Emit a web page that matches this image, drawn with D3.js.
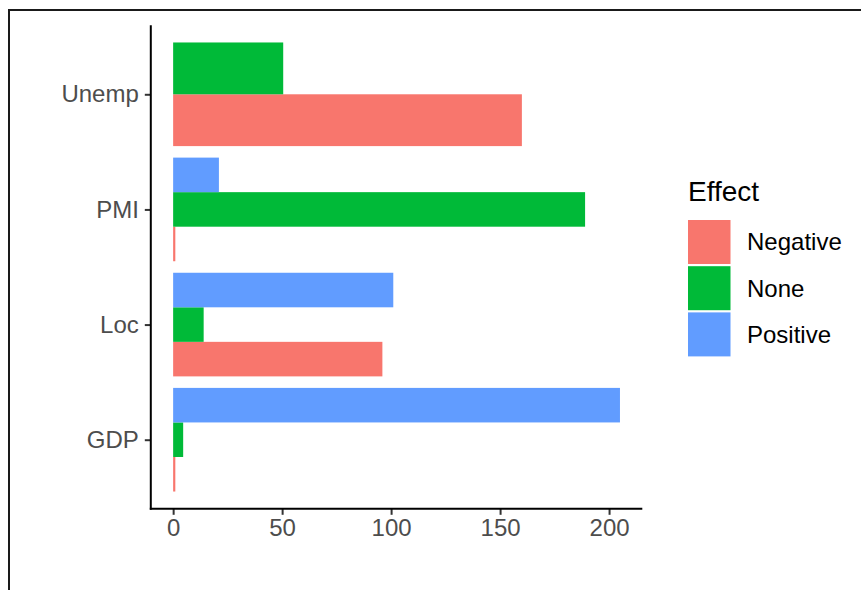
<!DOCTYPE html>
<html>
<head>
<meta charset="utf-8">
<script src="https://cdn.jsdelivr.net/npm/d3@7"></script>
<style>
  html, body { margin: 0; padding: 0; background: #fff; }
  svg { display: block; }
</style>
</head>
<body>
<svg id="chart" width="861" height="590"></svg>
<script>
// ---- data ----
const categories = ["Unemp", "PMI", "Loc", "GDP"];          // top to bottom
const effects = ["Negative", "None", "Positive"];
const colors = ["#F8766D", "#00BA38", "#619CFF"];
const negativeValues = [160, 1, 96, 1];
const noneValues = [50.5, 189, 14, 4.6];
const positiveValues = [null, 21, 101, 205];
const xTicks = [0, 50, 100, 150, 200];
const legendTitle = "Effect";

const seriesValues = [negativeValues, noneValues, positiveValues];

const svg = d3.select("#chart");
const font = "'Liberation Sans', Arial, Helvetica, sans-serif";

// frame
svg.append("rect")
  .attr("x", 9).attr("y", 10).attr("width", 1000).attr("height", 800)
  .attr("fill", "none").attr("stroke", "#1a1a1a").attr("stroke-width", 2);

// scales
const xMax = d3.max(seriesValues.flat().filter(v => v != null));
const pad = xMax * 0.05;
const x = d3.scaleLinear().domain([-pad, xMax + pad]).range([150.8, 642.3]);
const y = d3.scalePoint().domain(categories).range([25.2, 508.8]).padding(0.6);
const step = y.step();
const groupWidth = step * 0.9;

// bars
categories.forEach((cat, ci) => {
  const present = effects.map((e, si) => ({ e, si, v: seriesValues[si][ci] })).filter(d => d.v != null);
  const n = present.length;
  const bw = groupWidth / n;
  const cy = y(cat);
  present.forEach((d, k) => {
    // first series at bottom
    const top = cy + groupWidth / 2 - (k + 1) * bw;
    svg.append("rect")
      .attr("x", x(0))
      .attr("y", top)
      .attr("width", Math.max(0, x(d.v) - x(0)))
      .attr("height", bw)
      .attr("fill", colors[d.si]);
  });
});

// axes
const yAxis = d3.axisLeft(y).tickSize(6).tickPadding(6);
const gy = svg.append("g").attr("transform", `translate(${x.range()[0]},0)`).call(yAxis);
gy.select(".domain").remove();
gy.selectAll(".tick line").attr("stroke", "#333").attr("stroke-width", 2);
gy.selectAll(".tick text").attr("fill", "#4d4d4d").style("font-family", font).style("font-size", "24px");

const xAxis = d3.axisBottom(x).tickValues(xTicks).tickSize(6).tickPadding(4);
const gx = svg.append("g").attr("transform", `translate(0,${y.range()[1]})`).call(xAxis);
gx.select(".domain").remove();
gx.selectAll(".tick line").attr("stroke", "#333").attr("stroke-width", 2);
gx.selectAll(".tick text").attr("fill", "#4d4d4d").style("font-family", font).style("font-size", "24px");

// axis lines
svg.append("line")
  .attr("x1", x.range()[0]).attr("x2", x.range()[0])
  .attr("y1", y.range()[0]).attr("y2", y.range()[1] + 1)
  .attr("stroke", "#000").attr("stroke-width", 2);
svg.append("line")
  .attr("x1", x.range()[0] - 1).attr("x2", x.range()[1])
  .attr("y1", y.range()[1]).attr("y2", y.range()[1])
  .attr("stroke", "#000").attr("stroke-width", 2);

// legend
const lg = svg.append("g").attr("transform", "translate(688,0)");
lg.append("text").attr("x", 0).attr("y", 201).text(legendTitle)
  .attr("fill", "#000").style("font-family", font).style("font-size", "28px");
const keyW = 42.5, keyH = 44, keyGap = 2.2, key0 = 220;
effects.forEach((e, i) => {
  const ky = key0 + i * (keyH + keyGap);
  lg.append("rect").attr("x", 0).attr("y", ky).attr("width", keyW).attr("height", keyH).attr("fill", colors[i]);
  lg.append("text").attr("x", 59).attr("y", ky + keyH / 2).attr("dy", "0.35em").text(e)
    .attr("fill", "#000").style("font-family", font).style("font-size", "24px");
});
</script>
</body>
</html>
